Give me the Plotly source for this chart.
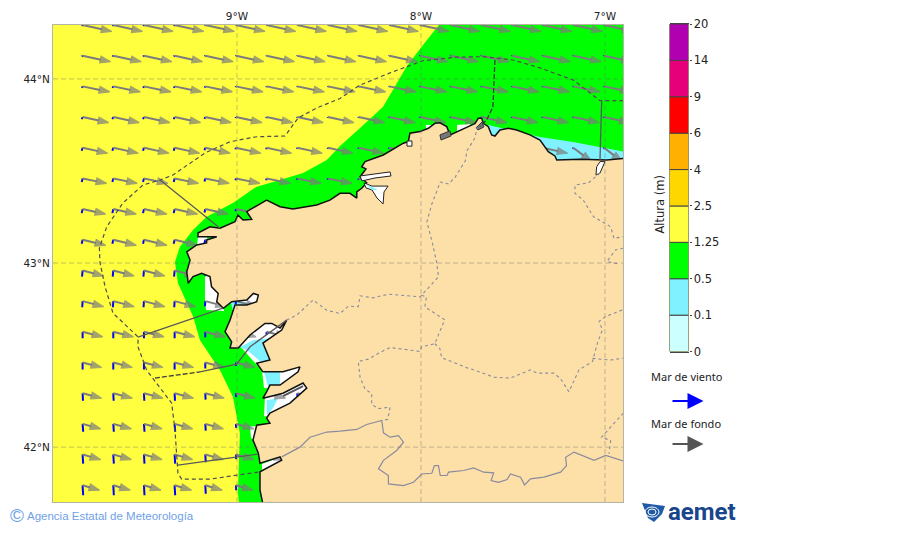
import plotly.graph_objects as go

# ---------- data (lon, lat in degrees) ----------
lon_ticks = [-9, -8, -7]
lon_labels = ["9°W", "8°W", "7°W"]
lat_ticks = [44, 43, 42]
lat_labels = ["44°N", "43°N", "42°N"]
lon_range = [-10.0, -6.902]
lat_range = [41.702, 44.293]

coast = [(-6.89,43.569),(-6.991,43.560),(-7.136,43.564),(-7.235,43.560),(-7.262,43.560),(-7.272,43.582),(-7.308,43.605),
(-7.353,43.668),(-7.408,43.696),(-7.480,43.723),(-7.525,43.732),(-7.571,43.723),(-7.598,43.690),(-7.616,43.696),
(-7.634,43.741),(-7.661,43.759),(-7.670,43.786),(-7.689,43.786),(-7.706,43.759),(-7.743,43.741),(-7.815,43.705),
(-7.842,43.696),(-7.860,43.741),(-7.897,43.762),(-7.924,43.759),(-7.960,43.732),(-8.005,43.714),(-8.060,43.705),
(-8.069,43.659),(-8.096,43.651),(-8.205,43.587),(-8.304,43.551),(-8.322,43.523),(-8.299,43.511),(-8.331,43.469),
(-8.295,43.436),(-8.322,43.406),(-8.349,43.387),(-8.349,43.353),(-8.386,43.379),(-8.440,43.379),(-8.495,43.342),
(-8.567,43.315),(-8.696,43.293),(-8.766,43.306),(-8.839,43.342),(-8.886,43.315),(-8.947,43.279),(-8.920,43.237),
(-8.967,43.234),(-8.995,43.261),(-9.011,43.224),(-9.092,43.189),(-9.147,43.197),(-9.212,43.163),(-9.212,43.143),
(-9.110,43.143),(-9.165,43.125),(-9.165,43.109),(-9.219,43.098),(-9.273,43.061),(-9.255,43.016),(-9.273,42.953),
(-9.265,42.890),(-9.239,42.926),(-9.192,42.944),(-9.147,42.926),(-9.138,42.871),(-9.102,42.835),(-9.110,42.790),
(-9.074,42.754),(-9.029,42.790),(-8.947,42.799),(-8.911,42.835),(-8.884,42.826),(-8.893,42.790),(-8.947,42.772),
(-9.011,42.772),(-9.038,42.690),(-9.065,42.627),(-9.029,42.572),(-9.038,42.538),(-8.993,42.538),(-8.929,42.609),
(-8.848,42.672),(-8.811,42.672),(-8.766,42.647),(-8.730,42.690),(-8.757,42.636),(-8.859,42.565),(-8.821,42.473),
(-8.893,42.456),(-8.859,42.409),(-8.750,42.409),(-8.658,42.436),(-8.668,42.409),(-8.766,42.337),(-8.821,42.337),
(-8.839,42.300),(-8.859,42.266),(-8.750,42.293),(-8.641,42.348),(-8.621,42.321),(-8.712,42.239),(-8.821,42.185),
(-8.839,42.158),(-8.821,42.130),(-8.893,42.119),(-8.913,42.038),(-8.884,41.967),(-8.875,41.913),(-8.766,41.947),
(-8.757,41.929),(-8.875,41.866),(-8.875,41.766),(-8.859,41.69)]
land_corners = [(-6.89,41.69)]

green_edge = [(-7.897,44.30),(-7.989,44.185),(-8.078,44.067),(-8.132,43.978),(-8.206,43.849),(-8.331,43.734),(-8.440,43.636),
(-8.512,43.560),(-8.641,43.489),(-8.766,43.451),(-8.893,43.415),(-9.022,43.326),(-9.165,43.252),(-9.239,43.179),
(-9.310,43.089),(-9.337,43.005),(-9.321,42.891),(-9.238,42.708),(-9.201,42.581),(-9.092,42.418),(-9.022,42.273),
(-8.984,42.076),(-8.995,41.750),(-8.989,41.69)]
green_corners = [(-6.89,41.69),(-6.89,44.30)]

white_under = [
 [(-9.174,42.924),(-9.174,42.788),(-9.168,42.745),(-9.071,42.739),(-9.071,42.880),(-9.136,42.951)],
 [(-9.038,42.799),(-8.875,42.842),(-8.864,42.783),(-9.011,42.745)],
 [(-8.984,42.549),(-8.848,42.690),(-8.723,42.701),(-8.755,42.625),(-8.810,42.462),(-8.886,42.44)],
 [(-8.864,42.418),(-8.647,42.451),(-8.658,42.391),(-8.777,42.321),(-8.853,42.321)],
 [(-8.848,42.277),(-8.630,42.364),(-8.609,42.310),(-8.821,42.168),(-8.853,42.168)],
 [(-8.929,42.114),(-8.886,42.114),(-8.886,42.033),(-8.924,42.049)],
 [(-8.864,41.908),(-8.755,41.951),(-8.750,41.924),(-8.864,41.859)],
 [(-9.212,43.141),(-9.163,43.141),(-9.163,43.109),(-9.217,43.098)],
]
cyan_under = [
 [(-7.636,43.750),(-7.462,43.712),(-7.353,43.685),(-7.174,43.658),(-7.027,43.630),(-6.89,43.603),(-6.89,43.55),(-7.30,43.55),(-7.62,43.68)],
 [(-9.033,42.788),(-8.946,42.788),(-8.946,42.761),(-9.022,42.739)],
 [(-8.984,42.543),(-8.913,42.581),(-8.821,42.592),(-8.837,42.527),(-8.821,42.473),(-8.875,42.467),(-8.913,42.500),(-8.946,42.527)],
 [(-8.853,42.408),(-8.766,42.408),(-8.766,42.331),(-8.832,42.331)],
 [(-8.839,42.255),(-8.777,42.266),(-8.804,42.212),(-8.837,42.174)],
]
white_spots = [
 [(-7.973,43.750),(-7.929,43.750),(-7.929,43.723),(-7.973,43.723)],
 [(-7.804,43.750),(-7.734,43.755),(-7.734,43.723),(-7.804,43.712)],
 [(-7.310,43.641),(-7.272,43.641),(-7.272,43.598),(-7.310,43.598)],
 [(-7.174,43.575),(-7.135,43.590),(-7.098,43.570),(-7.098,43.555),(-7.174,43.555)],
]
inlets_white = [
 [(-8.331,43.473),(-8.250,43.484),(-8.168,43.495),(-8.163,43.473),(-8.250,43.462),(-8.321,43.446)],
 [(-8.310,43.435),(-8.266,43.418),(-8.179,43.418),(-8.201,43.386),(-8.206,43.321),(-8.239,43.353),(-8.266,43.397),(-8.299,43.408)],
 [(-8.076,43.663),(-8.049,43.663),(-8.049,43.635),(-8.076,43.635)],
 [(-7.027,43.551),(-7.000,43.551),(-7.027,43.489),(-7.049,43.478),(-7.045,43.523)],
]
inlets_cyan = [[(-8.299,43.430),(-8.234,43.397),(-8.266,43.397)]]
inlets_grey = [
 [(-7.897,43.696),(-7.842,43.718),(-7.837,43.690),(-7.891,43.668)],
 [(-7.701,43.734),(-7.668,43.766),(-7.658,43.739),(-7.690,43.723)],
]

portugal_border = [(-8.757,41.947),(-8.658,42.0),(-8.603,42.054),(-8.512,42.082),(-8.440,42.087),(-8.349,42.096),(-8.295,42.123),
(-8.213,42.145),(-8.204,42.078),(-8.168,42.054),(-8.122,42.063),(-8.095,42.027),(-8.132,41.982),(-8.204,41.928),
(-8.231,41.882),(-8.177,41.846),(-8.177,41.80),(-8.095,41.791),(-8.041,41.809),(-7.995,41.854),(-7.941,41.858),
(-7.927,41.900),(-7.905,41.900),(-7.895,41.846),(-7.859,41.846),(-7.850,41.864),(-7.768,41.873),(-7.714,41.887),
(-7.659,41.864),(-7.605,41.860),(-7.619,41.818),(-7.578,41.809),(-7.532,41.824),(-7.514,41.854),(-7.459,41.837),
(-7.437,41.795),(-7.405,41.828),(-7.332,41.837),(-7.241,41.864),(-7.209,41.900),(-7.214,41.945),(-7.168,41.973),
(-7.059,41.928),(-6.996,41.955),(-6.90,41.925)]
province_borders = [
 [(-8.730,42.690),(-8.676,42.717),(-8.586,42.799),(-8.512,42.743),(-8.440,42.726),(-8.395,42.766),(-8.341,42.763),
  (-8.331,42.822),(-8.259,42.811),(-8.177,42.831),(-8.005,42.816),(-7.905,42.925),(-7.914,43.0),(-7.941,43.122),
  (-7.968,43.223),(-7.941,43.321),(-7.895,43.440),(-7.850,43.429),(-7.814,43.467),(-7.759,43.556),(-7.750,43.610),
  (-7.705,43.682),(-7.696,43.736)],
 [(-7.997,42.825),(-7.970,42.816),(-7.979,42.762),(-7.871,42.692),(-7.925,42.562),(-7.997,42.545),(-8.005,42.520),
  (-8.168,42.541),(-8.223,42.514),(-8.286,42.478),(-8.341,42.465),(-8.331,42.378),(-8.304,42.315),(-8.268,42.291),
  (-8.268,42.233),(-8.232,42.209),(-8.168,42.217),(-8.180,42.151),(-8.213,42.145)],
 [(-7.925,42.562),(-7.897,42.535),(-7.888,42.486),(-7.752,42.432),(-7.679,42.408),(-7.605,42.380),(-7.514,42.375),
  (-7.405,42.420),(-7.368,42.402),(-7.277,42.402),(-7.241,42.371),(-7.196,42.301),(-7.141,42.420),(-7.068,42.465),
  (-7.041,42.565),(-7.014,42.637),(-7.032,42.683),(-6.996,42.710),(-6.90,42.747)],
 [(-7.068,42.482),(-6.969,42.473),(-6.90,42.484)],
 [(-6.90,42.185),(-6.954,42.123),(-7.019,42.054),(-6.969,42.036),(-6.978,41.964)],
 [(-7.027,43.489),(-7.090,43.435),(-7.163,43.424),(-7.163,43.379),(-7.118,43.342),(-7.063,43.252),(-6.969,43.197),
  (-6.951,43.134),(-6.90,43.143)],
 [(-6.90,43.081),(-6.943,43.071),(-6.989,43.008),(-6.935,42.997)],
]
offshore_limit = [(-6.90,43.882),(-7.027,43.882),(-7.174,43.995),(-7.353,44.060),(-7.500,44.103),(-7.663,44.121),(-7.806,44.118),
(-7.989,44.099),(-8.168,44.033),(-8.331,43.967),(-8.440,43.894),(-8.567,43.842),(-8.668,43.788),(-8.739,43.690),
(-8.893,43.686),(-9.038,43.659),(-9.174,43.598),(-9.348,43.478),(-9.418,43.451),(-9.511,43.424),(-9.620,43.326),
(-9.708,43.197),(-9.748,43.082),(-9.745,43.005),(-9.717,42.871),(-9.674,42.728),(-9.538,42.599),(-9.538,42.545),
(-9.491,42.418),(-9.382,42.273),(-9.355,42.239),(-9.337,42.092),(-9.321,41.859),(-9.301,41.826),(-9.147,41.826),(-8.875,41.866)]
zone_lines_solid = [
 [(-9.418,43.451),(-9.092,43.189)],
 [(-9.538,42.598),(-9.076,42.755)],
 [(-9.201,42.409),(-9.002,42.451),(-8.929,42.545),(-8.839,42.609),(-8.730,42.690)],
 [(-9.321,41.902),(-8.886,41.962)],
 [(-7.018,43.877),(-7.027,43.560)],
]
zone_lines_dashed = [
 [(-9.446,42.375),(-9.201,42.409)],
 [(-7.598,44.103),(-7.609,43.848),(-7.643,43.777),(-7.679,43.741)],
]
estuary_marks = [[(-8.750,42.277),(-8.641,42.332)]]

# arrow grid
arrow_lons = [-9.839 + k / 6 for k in range(18)]
arrow_lats = [44.293 - k / 6 for k in range(16)]
swell_u = [0.158,0.152,0.147,0.141,0.136,0.130,0.125,0.125,0.114,0.114,0.109,0.103,0.103,0.098,0.098,0.092]
swell_v = [-0.035,-0.033,-0.030,-0.030,-0.030,-0.027,-0.027,-0.030,-0.030,-0.030,-0.027,-0.027,-0.027,-0.027,-0.027,-0.027]
swell_exceptions = {(4, 16): (0.10, -0.075), (4, 17): (0.10, -0.075)}
wind_u = [-0.003,-0.004,-0.004,-0.005,-0.005,-0.005,-0.005,-0.005,-0.003,-0.002,0,0,0.002,0.003,0.003,0.003]
wind_v = [-0.005,-0.005,-0.008,-0.011,-0.016,-0.019,-0.022,-0.022,-0.033,-0.033,-0.035,-0.038,-0.041,-0.043,-0.049,-0.054]
wind_col_scale = [1,1,1,1,0.85,0.5,0.5,0.4,0.4,0.4,0.4,0.4,0.4,0.4,0.4,0.4,0.4,0.4]

# colour bar
level_labels = ["0","0.1","0.5","1.25","2.5","4","6","9","14","20"]
level_colors = ["#ccffff","#80f2ff","#00ff00","#ffff40","#ffd700","#ffb000","#ff0000","#e6007a","#b000b0"]

YELLOW, GREEN, CYAN = "#ffff40", "#00ff00", "#80f2ff"
LAND = "#fde0a8"
GRID = "rgba(110,110,110,0.42)"

fig = go.Figure()

def poly(points, fill, line=None, width=0):
    fig.add_trace(go.Scatter(x=[p[0] for p in points] + [points[0][0]], y=[p[1] for p in points] + [points[0][1]],
        mode="lines", fill="toself", fillcolor=fill,
        line=dict(color=line or fill, width=width), hoverinfo="skip", showlegend=False))

def path(points, color, width=1, dash="solid"):
    fig.add_trace(go.Scatter(x=[p[0] for p in points], y=[p[1] for p in points], mode="lines",
        line=dict(color=color, width=width, dash=dash), hoverinfo="skip", showlegend=False))

poly(green_edge + green_corners, GREEN)
for p in white_under + white_spots:
    poly(p, "white")
for p in cyan_under:
    poly(p, CYAN)

# wind sea
wx, wy = [], []
for r, la in enumerate(arrow_lats):
    for c, lo in enumerate(arrow_lons):
        s = wind_col_scale[c]
        wx += [lo, lo + wind_u[r] * s, None]
        wy += [la, la + wind_v[r] * s, None]
fig.add_trace(go.Scatter(x=wx, y=wy, mode="lines", line=dict(color="#0000ff", width=2), hoverinfo="skip", showlegend=False))

# swell
sx, sy, ss = [], [], []
for r, la in enumerate(arrow_lats):
    for c, lo in enumerate(arrow_lons):
        u, v = swell_exceptions.get((r, c), (swell_u[r], swell_v[r]))
        sx += [lo, lo + u, None]
        sy += [la, la + v, None]
        ss += [0, 11, 0]
fig.add_trace(go.Scatter(x=sx, y=sy, mode="lines+markers", line=dict(color="#7c7c7c", width=2),
    marker=dict(symbol="arrow", size=ss, color="#7c7c7c", angleref="previous", line=dict(width=1.2, color="#7c7c7c")),
    hoverinfo="skip", showlegend=False))

# land
poly(coast + land_corners, LAND)
path(coast, "#111111", 1.5)
for p in inlets_white:
    poly(p, "white", "#222222", 1)
for p in inlets_cyan:
    poly(p, CYAN)
for p in inlets_grey:
    poly(p, "#777777", "#333333", 1)
for p in estuary_marks:
    path(p, "#555555", 2)

path(portugal_border, "#8b8b9f", 1.2)
for p in province_borders:
    path(p, "#8b8b9f", 1.1, "3px,3px")
path(offshore_limit, "#4d4d4d", 1.2, "4px,3px")
for p in zone_lines_solid:
    path(p, "#5a5a5a", 1.3)
for p in zone_lines_dashed:
    path(p, "#3c3c3c", 1.3, "5px,2px")

# graticule above everything
for lo in lon_ticks:
    path([(lo, lat_range[0]), (lo, lat_range[1])], GRID, 1, "5px,3px")
for la in lat_ticks:
    path([(lon_range[0], la), (lon_range[1], la)], GRID, 1, "5px,3px")

# colour bar as a stacked bar on its own axes
for i, col in enumerate(level_colors):
    fig.add_trace(go.Bar(x=[0], y=[1], base=[i], marker=dict(color=col, line=dict(color="#444444", width=1)),
        width=1, xaxis="x2", yaxis="y2", hoverinfo="skip", showlegend=False))

W, H = 900, 533
fig.update_layout(
    width=W, height=H, autosize=False, margin=dict(l=0, r=0, t=0, b=0, pad=0, autoexpand=False),
    paper_bgcolor="white", plot_bgcolor=YELLOW, barmode="overlay",
    font=dict(family="DejaVu Sans", color="#222222", size=10.5),
    xaxis=dict(range=lon_range, side="top", tickvals=lon_ticks, ticktext=lon_labels, showgrid=False, zeroline=False,
               ticks="", showline=True, mirror=True, linecolor="#b5b5a5", linewidth=1, tickfont=dict(size=10.5),
               domain=[53/W, 623/W], anchor="y"),
    yaxis=dict(range=lat_range, tickvals=lat_ticks, ticktext=lat_labels, showgrid=False, zeroline=False,
               ticks="", showline=True, mirror=True, linecolor="#b5b5a5", linewidth=1, tickfont=dict(size=10.5),
               domain=[(H-502)/H, (H-25)/H], anchor="x"),
    xaxis2=dict(domain=[669.5/W, 688.5/W], range=[-0.5, 0.5], showticklabels=False, ticks="", showgrid=False,
                zeroline=False, anchor="y2", showline=True, mirror=True, linecolor="#444444", linewidth=1),
    yaxis2=dict(domain=[(H-351.5)/H, (H-24)/H], range=[0, 9], side="right", anchor="x2", tickvals=list(range(10)),
                ticktext=level_labels, showgrid=False, zeroline=False, ticks="outside", ticklen=2, tickcolor="#444444",
                tickfont=dict(size=11.5), showline=False),
)

def px_ann(x, y, text, **kw):
    fig.add_annotation(x=x/W, y=1-y/H, xref="paper", yref="paper", text=text, showarrow=False,
                       xanchor="center", yanchor="middle", **kw)

px_ann(659.5, 205, "Altura (m)", textangle=-90, font=dict(size=11.5, color="#222222"))
px_ann(686.5, 376, "Mar de viento", font=dict(family="Noto Sans", size=11, color="#222222"))
px_ann(685.5, 423, "Mar de fondo", font=dict(family="Noto Sans", size=11, color="#222222"))
for yy, col in ((401, "#0000ff"), (444, "#555555")):
    fig.add_annotation(x=703.5/W, y=1-yy/H, ax=-32.5, ay=0, xref="paper", yref="paper",
                       text="", showarrow=True, arrowhead=2, arrowsize=1.6, arrowwidth=2, arrowcolor=col)
px_ann(110, 516, "Agencia Estatal de Meteorología", font=dict(family="Liberation Sans", size=11.5, color="#6f9fe8"))
px_ann(17, 515, "©", font=dict(family="Liberation Sans", size=19, color="#6f9fe8"))
px_ann(702, 512, "<b>aemet</b>", font=dict(family="Roboto", size=24, color="#17468c"))

# logo mark
def pp(x, y):
    return f"{x/W:.5f},{1-y/H:.5f}"
logo = "M" + " L".join(pp(*q) for q in [(642,503),(665,506),(662,514),(654,522),(648,518)]) + " Z"
fig.add_shape(type="path", path=logo, xref="paper", yref="paper", fillcolor="#1f5aa6", line=dict(width=0))
for a, b in ((4, 3), (7, 5)):
    fig.add_shape(type="circle", xref="paper", yref="paper", x0=(652-a)/W, x1=(652+a)/W, y0=1-(512+b)/H, y1=1-(512-b)/H,
                  line=dict(color="white", width=1))

fig.write_html("out.html", config=dict(displayModeBar=False),
               post_script="document.body.style.margin='0';document.body.style.overflow='hidden';")
